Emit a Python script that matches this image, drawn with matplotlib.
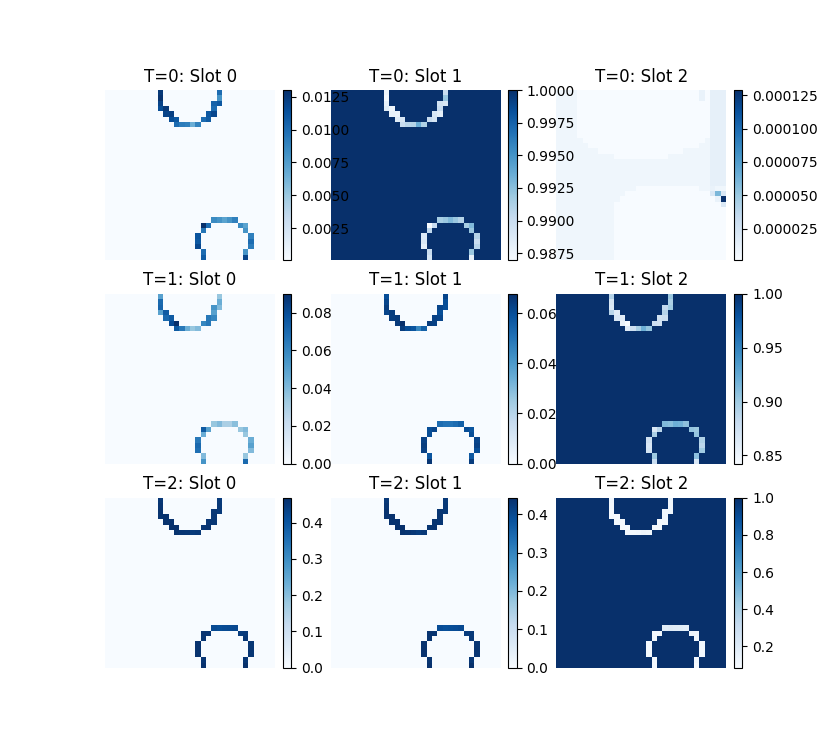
import numpy as np
import matplotlib
matplotlib.use('Agg')
import matplotlib.pyplot as plt

n = 32  # grid size of each attention map

# ring cells (row, col): upper ring then lower ring
ring_rows = [0, 0, 1, 1, 2, 2, 2, 3, 3, 3, 4, 4, 4, 4, 5, 5, 5, 5, 6, 6, 6, 6, 6,
             24, 24, 24, 24, 24, 25, 25, 25, 25, 26, 26, 27, 27, 28, 28, 29, 29, 30, 30, 31, 31]
ring_cols = [10, 21, 10, 21, 10, 20, 21, 10, 11, 20, 11, 12, 19, 20, 12, 13, 18, 19, 13, 14, 15, 16, 17,
             20, 21, 22, 23, 24, 18, 19, 25, 26, 18, 26, 17, 27, 17, 27, 17, 27, 18, 26, 18, 26]

# slot 0 / slot 1 values on the ring cells
t0_slot0 = [0.0125, 0.0100, 0.0128, 0.0080, 0.0120, 0.0105, 0.0110, 0.0115, 0.0125, 0.0100,
            0.0120, 0.0122, 0.0110, 0.0118, 0.0115, 0.0110, 0.0100, 0.0108,
            0.0100, 0.0092, 0.0090, 0.0065, 0.0088,
            0.0085, 0.0080, 0.0072, 0.0080, 0.0090, 0.0130, 0.0100, 0.0085, 0.0072,
            0.0095, 0.0080, 0.0112, 0.0090, 0.0110, 0.0100, 0.0118, 0.0092, 0.0100, 0.0080, 0.0108, 0.0120]
t1_slot0 = [0.050, 0.035, 0.070, 0.045, 0.072, 0.055, 0.040, 0.050, 0.075, 0.050,
            0.070, 0.075, 0.065, 0.060, 0.080, 0.090, 0.060, 0.065,
            0.075, 0.065, 0.045, 0.035, 0.040,
            0.035, 0.040, 0.030, 0.030, 0.038, 0.075, 0.050, 0.035, 0.040,
            0.045, 0.035, 0.065, 0.045, 0.070, 0.050, 0.068, 0.040, 0.040, 0.035, 0.055, 0.070]
t1_slot1 = [0.060, 0.062, 0.062, 0.060, 0.064, 0.062, 0.060, 0.062, 0.064, 0.060,
            0.064, 0.065, 0.063, 0.062, 0.065, 0.0677, 0.064, 0.063,
            0.064, 0.060, 0.058, 0.045, 0.055,
            0.052, 0.050, 0.050, 0.052, 0.055, 0.060, 0.062, 0.060, 0.058,
            0.060, 0.060, 0.063, 0.062, 0.064, 0.063, 0.063, 0.060, 0.058, 0.057, 0.066, 0.064]
t2_slot0 = [0.455, 0.450, 0.460, 0.452, 0.462, 0.455, 0.450, 0.460, 0.465, 0.455,
            0.462, 0.465, 0.458, 0.456, 0.466, 0.469, 0.458, 0.460,
            0.462, 0.458, 0.455, 0.448, 0.452,
            0.420, 0.415, 0.418, 0.420, 0.425, 0.460, 0.458, 0.445, 0.450,
            0.458, 0.455, 0.462, 0.455, 0.463, 0.458, 0.462, 0.455, 0.458, 0.455, 0.465, 0.466]
t2_slot1 = [0.430, 0.428, 0.435, 0.430, 0.438, 0.432, 0.428, 0.436, 0.440, 0.432,
            0.438, 0.440, 0.434, 0.432, 0.442, 0.444, 0.435, 0.436,
            0.438, 0.434, 0.430, 0.420, 0.428,
            0.395, 0.390, 0.392, 0.395, 0.400, 0.436, 0.434, 0.422, 0.426,
            0.434, 0.430, 0.438, 0.432, 0.440, 0.434, 0.438, 0.432, 0.434, 0.430, 0.440, 0.441]

# T=0 slot 2: faint field, lighter halos (row, first col, last col + 1)
t0_slot2_bg = 0.000006
t0_slot2_halo_val = 0.0000015
t0_slot2_halo = [(0, 4, 29), (1, 4, 29), (2, 4, 29), (3, 4, 29), (4, 4, 29), (5, 4, 29), (6, 4, 29),
                 (7, 4, 29), (8, 4, 29), (9, 5, 28), (10, 6, 27), (11, 8, 24), (12, 11, 21),
                 (18, 15, 27), (19, 13, 29), (20, 12, 30), (21, 11, 31), (22, 11, 32), (23, 11, 32),
                 (24, 11, 32), (25, 11, 32), (26, 11, 32), (27, 11, 32), (28, 11, 32), (29, 11, 32),
                 (30, 11, 32), (31, 11, 32)]
t0_slot2_spots_r = [0, 1, 18, 19, 19, 19, 20, 20, 21]
t0_slot2_spots_c = [27, 27, 29, 29, 30, 31, 30, 31, 31]
t0_slot2_spots_v = [0.00001, 0.00001, 0.00001, 0.00002, 0.00006, 0.00002, 0.00001, 0.000129, 0.00002]
t0_slot2_edge = 0.000012  # columns 29-31, rows 0-17

t0_slot0_bg = 0.0001

rr = np.array(ring_rows)
cc = np.array(ring_cols)

# T=0
s0 = np.full((n, n), t0_slot0_bg)
s0[rr, cc] = t0_slot0
s2 = np.full((n, n), t0_slot2_bg)
for r, a, b in t0_slot2_halo:
    s2[r, a:b] = t0_slot2_halo_val
s2[0:18, 29:32] = t0_slot2_edge
s2[t0_slot2_spots_r, t0_slot2_spots_c] = t0_slot2_spots_v
s1 = np.ones((n, n))
s1[rr, cc] = 1 - np.array(t0_slot0)
maps = [[s0, s1, s2]]

# T=1, T=2
for a0, a1 in [(t1_slot0, t1_slot1), (t2_slot0, t2_slot1)]:
    m0 = np.zeros((n, n))
    m1 = np.zeros((n, n))
    m2 = np.ones((n, n))
    m0[rr, cc] = a0
    m1[rr, cc] = a1
    m2[rr, cc] = 1 - np.array(a0) - np.array(a1)
    maps.append([m0, m1, m2])

fig, axes = plt.subplots(3, 3, figsize=(8.25, 7.5))
for t in range(3):
    for s in range(3):
        ax = axes[t, s]
        im = ax.imshow(maps[t][s], cmap='Blues')
        ax.set_title('T=%d: Slot %d' % (t, s))
        ax.axis('off')
        fig.colorbar(im, ax=ax, fraction=0.046, pad=0.04)

plt.savefig('out.png', dpi=100)
